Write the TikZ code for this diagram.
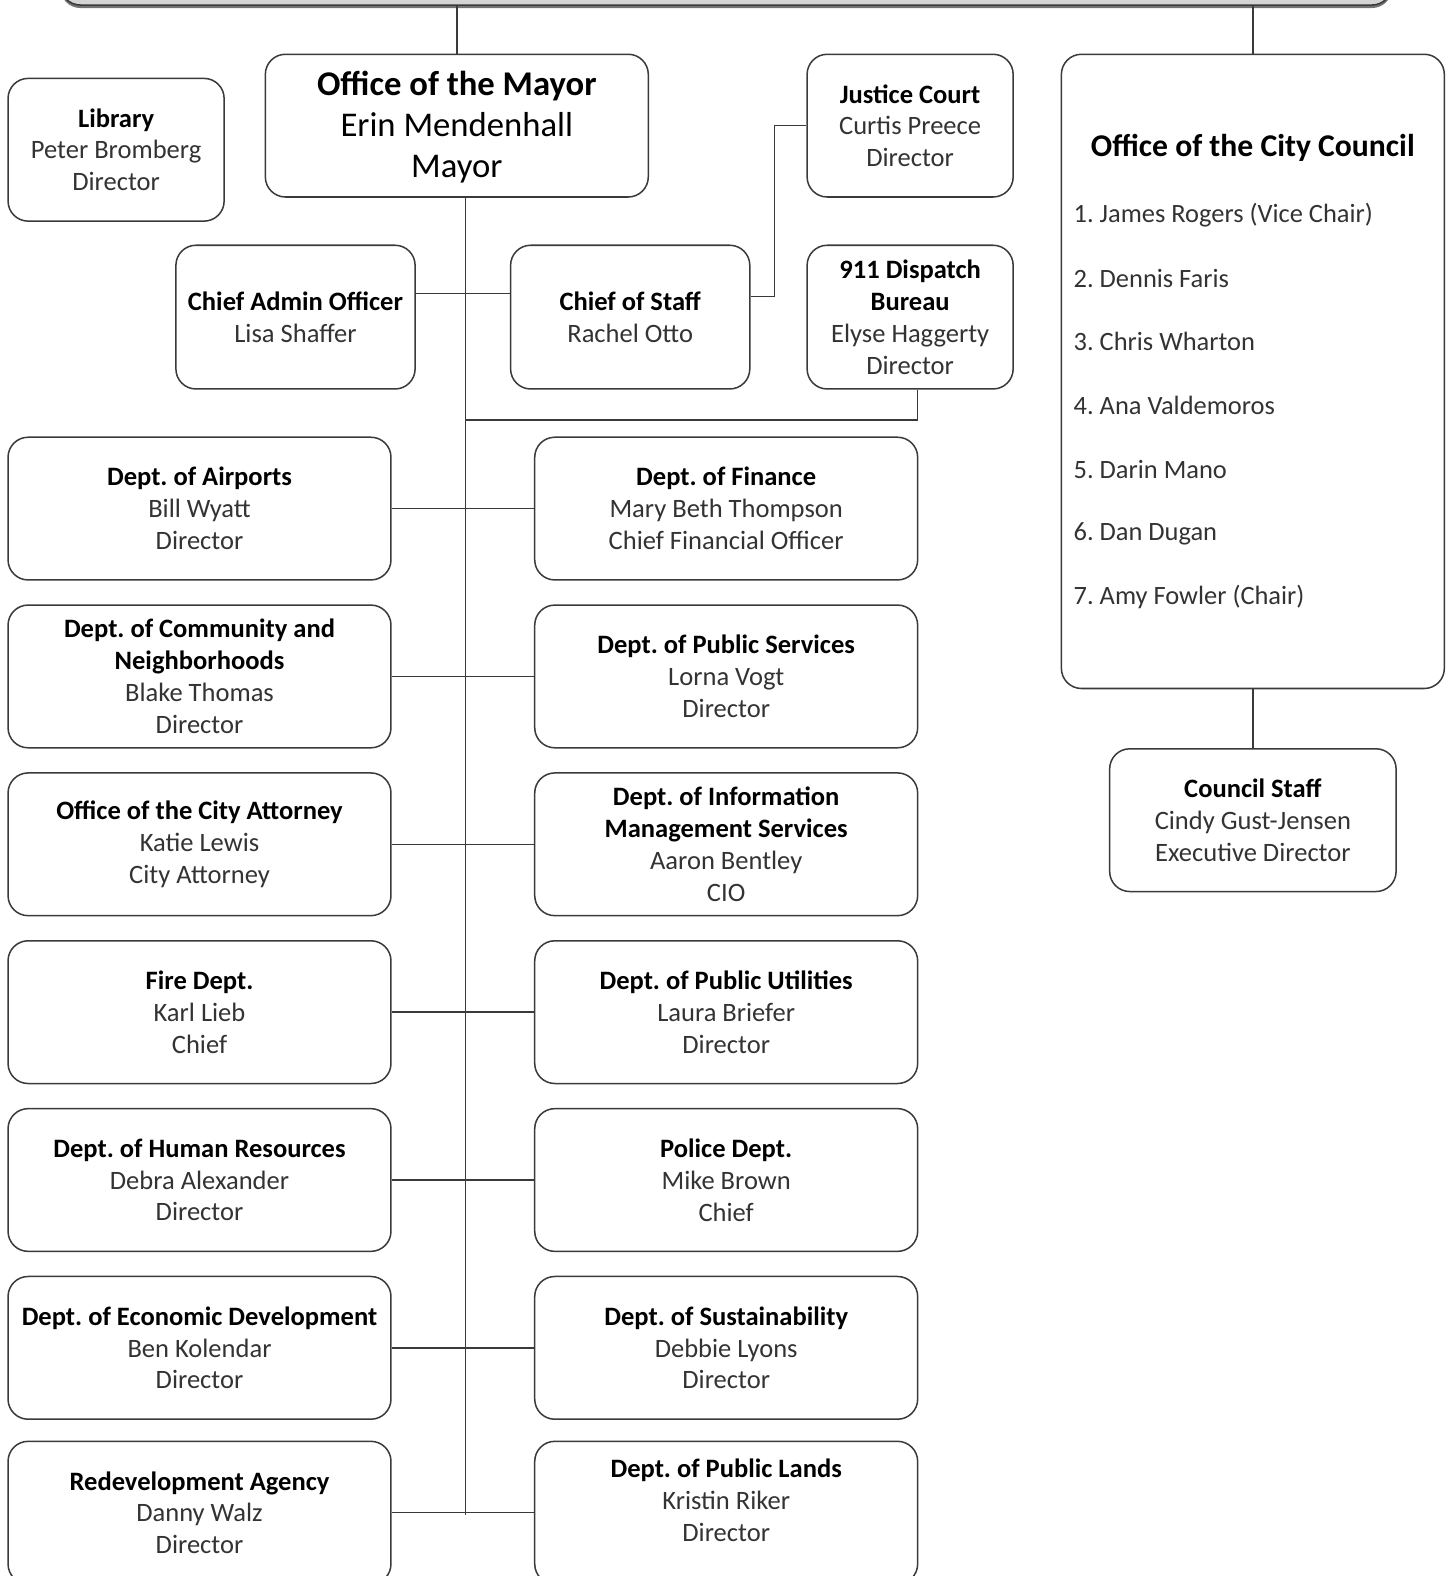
\documentclass[tikz,border=0pt]{standalone}
\usepackage{fontspec}
\setmainfont{Carlito}
\usetikzlibrary{shadows}
\definecolor{linec}{HTML}{3A3A3A}
\definecolor{namec}{HTML}{333333}
\definecolor{topfill}{HTML}{D4D4D4}
\newcommand\ttl[1]{{\color{black}\bfseries #1}}
\tikzset{
  box/.style={draw=linec, line width=1.5pt, rounded corners=20pt, fill=white,
    align=center, inner sep=0pt, text=namec, font=\frenchspacing\fontsize{26.4}{31.7}\selectfont},
  conn/.style={draw=linec, line width=1.5pt},
  listitem/.style={anchor=west, inner sep=0pt, text=namec, font=\frenchspacing\fontsize{26.3}{30}\selectfont},
}
\begin{document}
\begin{tikzpicture}[x=1pt,y=-1pt]
\clip (0,0) rectangle (1440,1568);
% top (cut-off) box
\node[draw=linec, line width=1.5pt, rounded corners=20pt, fill=topfill, inner sep=0pt,
  minimum width=1325pt, minimum height=60pt,
  drop shadow={shadow xshift=0pt, shadow yshift=-3pt, fill=black!55, opacity=1}] (top) at (722.5,-25) {};
% nodes
\node[box, minimum width=215pt, minimum height=142pt] (lib) at (115.5,149) {\ttl{Library}\\Peter Bromberg\\Director};
\node[box, minimum width=381pt, minimum height=142pt] (mayor) at (454.5,125) {};
\node[inner sep=0pt, align=center, text=black, font=\fontsize{34.5}{41}\selectfont] (mayort) at (454.5,126.5) {\ttl{Office of the Mayor}\\Erin Mendenhall\\Mayor};
\node[box, minimum width=205pt, minimum height=142pt] (jc) at (905.5,125) {\ttl{Justice Court}\\Curtis Preece\\Director};
\node[box, minimum width=381pt, minimum height=631pt] (council) at (1246.5,369.5) {};
\node[box, minimum width=238pt, minimum height=143pt] (cao) at (294,315.5) {\ttl{Chief Admin Officer}\\Lisa Shaffer};
\node[box, minimum width=238pt, minimum height=143pt] (cos) at (627,315.5) {\ttl{Chief of Staff}\\Rachel Otto};
\node[box, minimum width=205pt, minimum height=143pt] (disp) at (905.5,315.5) {\ttl{911 Dispatch}\\\ttl{Bureau}\\Elyse Haggerty\\Director};
% council contents
\node[inner sep=0pt, font=\fontsize{31.5}{36}\selectfont\bfseries, text=black] (ctitle) at (1246.5,147) {Office of the City Council};
\node[listitem] (c1) at (1068,214) {1. James Rogers (Vice Chair)};
\node[listitem] (c2) at (1068,277) {2. Dennis Faris};
\node[listitem] (c3) at (1068,340) {3. Chris Wharton};
\node[listitem] (c4) at (1068,403) {4. Ana Valdemoros};
\node[listitem] (c5) at (1068,467) {5. Darin Mano};
\node[listitem] (c6) at (1068,531) {6. Dan Dugan};
\node[listitem] (c7) at (1068,594) {7. Amy Fowler (Chair)};
\node[box, minimum width=285pt, minimum height=142pt] (staff) at (1246.5,816) {\ttl{Council Staff}\\Cindy Gust-Jensen\\Executive Director};
% left column
\node[box, minimum width=381pt, minimum height=142pt] (L1) at (198.5,506) {\ttl{Dept. of Airports}\\Bill Wyatt\\Director};
\node[box, minimum width=381pt, minimum height=142pt] (L2) at (198.5,673) {\ttl{Dept. of Community and}\\\ttl{Neighborhoods}\\Blake Thomas\\Director};
\node[box, minimum width=381pt, minimum height=142pt] (L3) at (198.5,840) {\ttl{Office of the City Attorney}\\Katie Lewis\\City Attorney};
\node[box, minimum width=381pt, minimum height=142pt] (L4) at (198.5,1007) {\ttl{Fire Dept.}\\Karl Lieb\\Chief};
\node[box, minimum width=381pt, minimum height=142pt] (L5) at (198.5,1174) {\ttl{Dept. of Human Resources}\\Debra Alexander\\Director};
\node[box, minimum width=381pt, minimum height=142pt] (L6) at (198.5,1341) {\ttl{Dept. of Economic Development}\\Ben Kolendar\\Director};
\node[box, minimum width=381pt, minimum height=142pt] (L7) at (198.5,1505) {\ttl{Redevelopment Agency}\\Danny Walz\\Director};
% right column
\node[box, minimum width=381pt, minimum height=142pt] (R1) at (722.5,506) {\ttl{Dept. of Finance}\\Mary Beth Thompson\\Chief Financial Officer};
\node[box, minimum width=381pt, minimum height=142pt] (R2) at (722.5,673) {\ttl{Dept. of Public Services}\\Lorna Vogt\\Director};
\node[box, minimum width=381pt, minimum height=142pt] (R3) at (722.5,840) {\ttl{Dept. of Information}\\\ttl{Management Services}\\Aaron Bentley\\CIO};
\node[box, minimum width=381pt, minimum height=142pt] (R4) at (722.5,1007) {\ttl{Dept. of Public Utilities}\\Laura Briefer\\Director};
\node[box, minimum width=381pt, minimum height=142pt] (R5) at (722.5,1174) {\ttl{Police Dept.}\\Mike Brown\\Chief};
\node[box, minimum width=381pt, minimum height=142pt] (R6) at (722.5,1341) {\ttl{Dept. of Sustainability}\\Debbie Lyons\\Director};
\node[box, minimum width=381pt, minimum height=142pt] (R7) at (722.5,1505) {};
\node[inner sep=0pt, align=center, text=namec, font=\frenchspacing\fontsize{26.4}{31.7}\selectfont] (R7t) at (722.5,1493) {\ttl{Dept. of Public Lands}\\Kristin Riker\\Director};
% connectors
\coordinate (trunkTop) at (463,196);
\coordinate (trunkBot) at (463,1507);
\coordinate (cosY) at (0,292);
\coordinate (jcY) at (0,295);
\coordinate (dispY) at (0,418);
\draw[conn] (top.south -| mayor.north) -- (mayor.north);
\draw[conn] (top.south -| council.north) -- (council.north);
\draw[conn] (council.south) -- (staff.north);
\draw[conn] (trunkTop) -- (trunkBot);
\draw[conn] (cao.east |- cosY) -- (cos.west |- cosY);
\draw[conn] (cos.east |- jcY) -- ++(24,0) |- (jc.west);
\draw[conn] ([xshift=7.5pt]disp.south) |- (trunkTop |- dispY);
\foreach \i in {1,...,7} { \draw[conn] (L\i.east) -- (R\i.west); }
\end{tikzpicture}
\end{document}
